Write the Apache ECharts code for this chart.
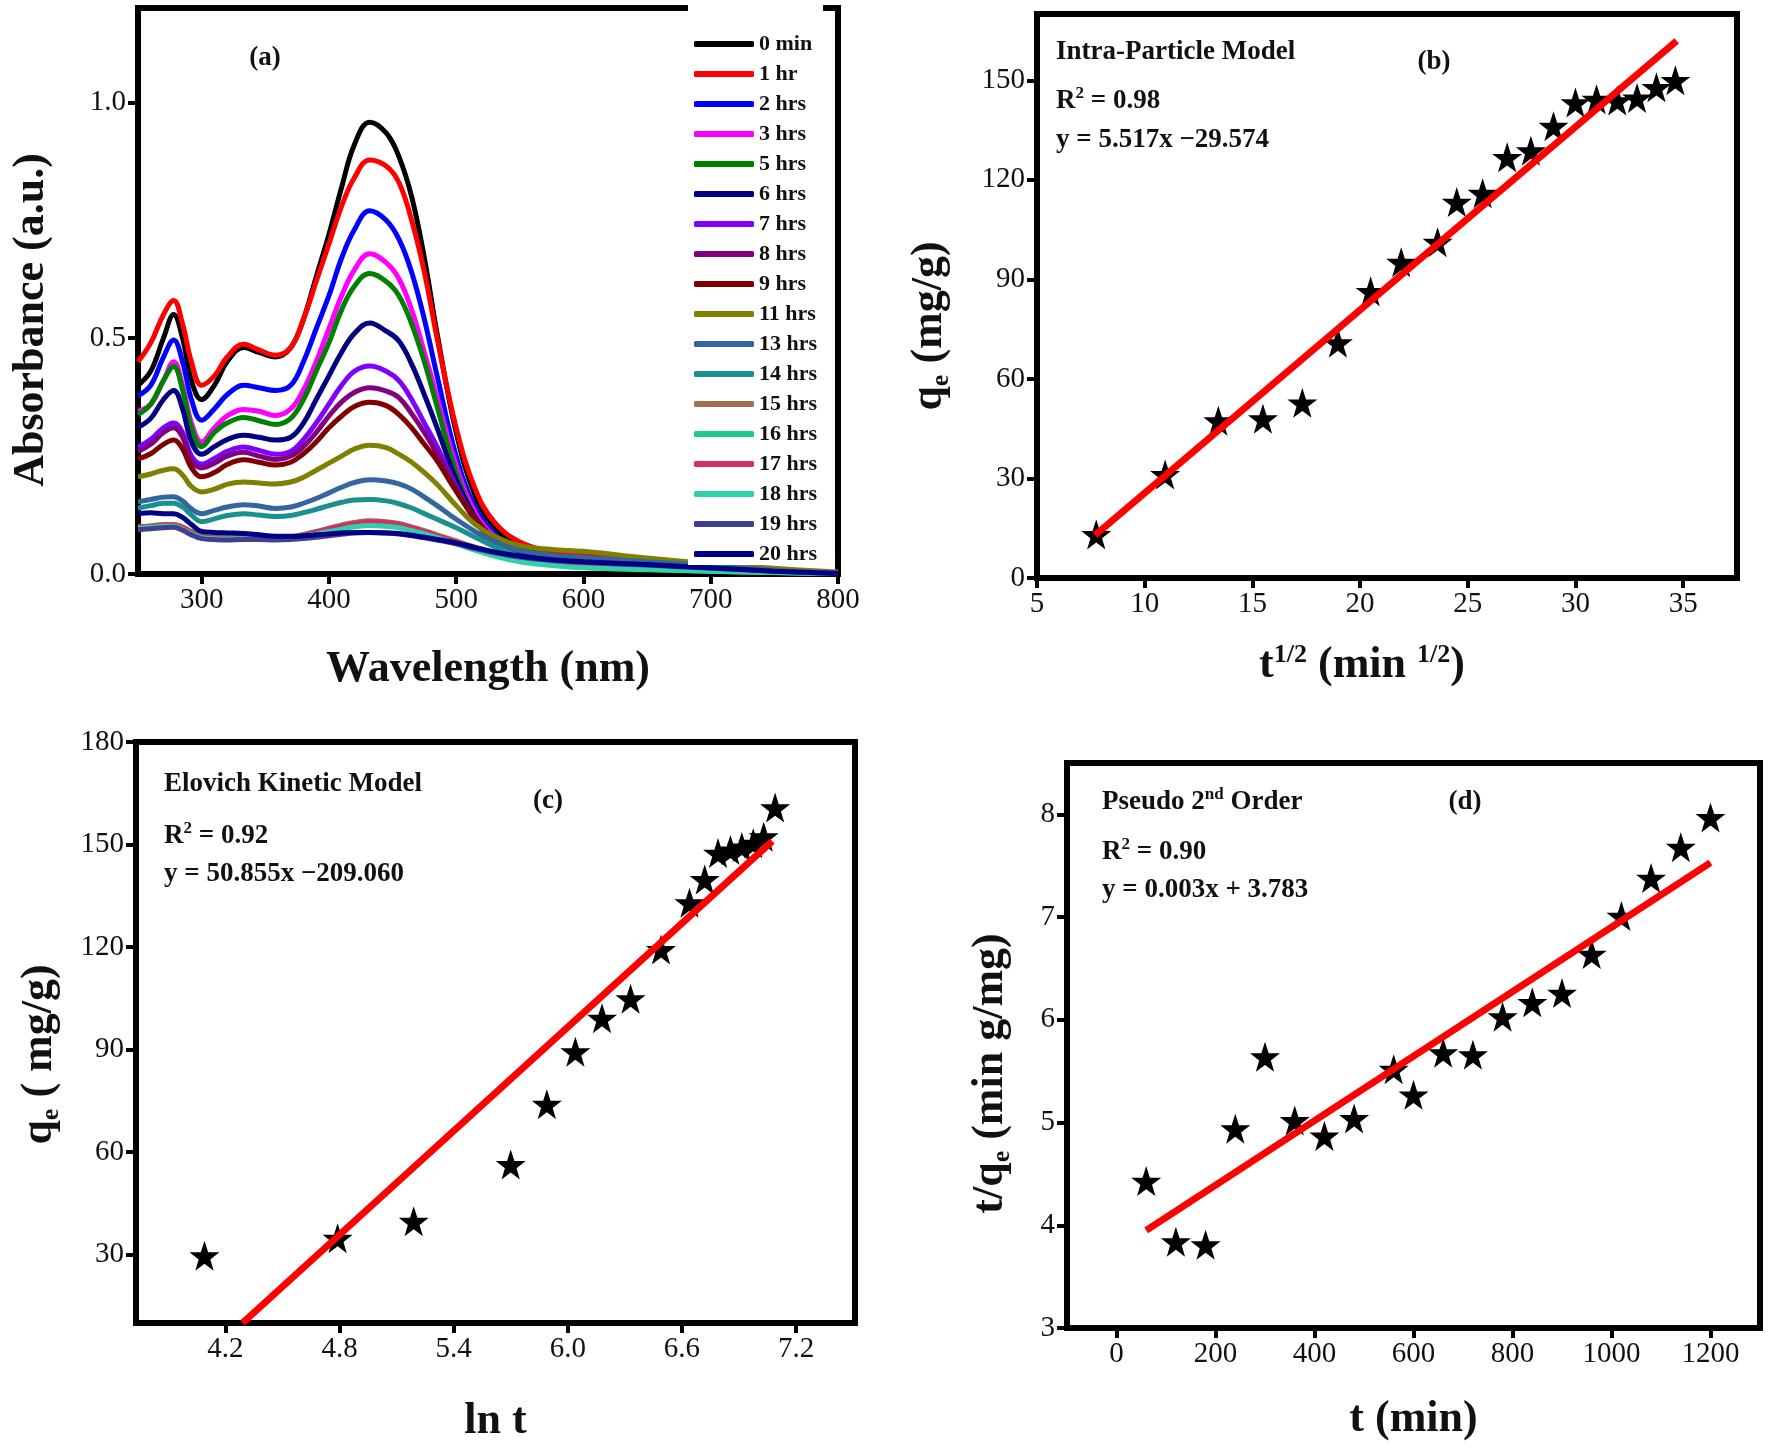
<!DOCTYPE html>
<html><head><meta charset="utf-8">
<script src="https://cdn.jsdelivr.net/npm/echarts@6/dist/echarts.min.js"></script>
<style>html,body{margin:0;padding:0;background:#fff}#c{width:1769px;height:1449px}</style>
</head><body><div id="c"></div>
<script>
// ---------- Panel (a): UV-Vis spectra ----------
const wavelengths = [250,260,270,278,285,292,300,310,320,333,345,358,370,380,390,400,410,420,432,445,455,465,475,485,500,515,530,550,575,600,650,700,750,800];
const spectraLabels = ['0 min','1 hr','2 hrs','3 hrs','5 hrs','6 hrs','7 hrs','8 hrs','9 hrs','11 hrs','13 hrs','14 hrs','15 hrs','16 hrs','17 hrs','18 hrs','19 hrs','20 hrs'];
const spectraColors = ['#000000','#ff0000','#0000ff','#ff00ff','#008000','#000080','#8000ff','#800080','#800000','#808000','#3366a0','#1a9090','#a07050','#20c890','#d0306a','#30d0a8','#404090','#000088'];
const abs_0min = [.40,.43,.50,.55,.50,.41,.37,.40,.45,.48,.47,.46,.48,.54,.63,.72,.82,.91,.958,.935,.885,.80,.67,.51,.30,.165,.10,.06,.045,.038,.028,.018,.008,.002];
const abs_1hr  = [.45,.49,.55,.58,.53,.45,.40,.42,.46,.487,.475,.464,.48,.54,.62,.70,.78,.84,.878,.865,.83,.75,.64,.50,.31,.18,.11,.068,.047,.038,.028,.018,.008,.002];
const abs_2hrs = [.378,.40,.46,.496,.45,.37,.326,.35,.38,.40,.395,.389,.40,.45,.52,.59,.67,.73,.77,.75,.71,.64,.54,.42,.25,.14,.085,.05,.038,.033,.024,.015,.007,.002];
const abs_3hrs = [.345,.36,.41,.45,.40,.32,.28,.31,.335,.349,.345,.336,.35,.39,.45,.52,.59,.645,.679,.66,.626,.56,.47,.375,.23,.13,.08,.048,.036,.03,.021,.013,.006,.001];
const abs_5hrs = [.338,.36,.41,.44,.39,.31,.27,.30,.32,.332,.325,.317,.33,.37,.43,.49,.56,.61,.637,.62,.59,.53,.45,.355,.215,.12,.072,.042,.028,.02,.012,.008,.004,.001];
const abs_6hrs = [.311,.33,.37,.389,.35,.28,.254,.27,.285,.294,.29,.284,.29,.32,.37,.42,.47,.51,.532,.515,.494,.445,.38,.31,.20,.12,.075,.047,.035,.03,.022,.014,.006,.001];
const abs_7hrs = [.269,.285,.31,.32,.30,.25,.233,.245,.26,.269,.262,.254,.26,.285,.32,.36,.40,.43,.441,.43,.41,.37,.32,.27,.185,.115,.072,.045,.033,.028,.02,.013,.006,.001];
const abs_8hrs = [.26,.275,.30,.31,.29,.24,.225,.235,.25,.258,.25,.243,.25,.27,.30,.335,.365,.385,.395,.388,.374,.34,.30,.255,.18,.113,.07,.044,.033,.028,.02,.013,.006,.001];
const abs_9hrs = [.244,.255,.275,.284,.265,.225,.206,.215,.232,.242,.237,.231,.237,.255,.28,.31,.335,.355,.364,.357,.338,.31,.275,.24,.175,.118,.074,.046,.035,.03,.022,.014,.006,.001];
const abs_11hrs = [.206,.212,.22,.223,.21,.185,.174,.18,.19,.195,.193,.191,.195,.205,.22,.235,.25,.265,.273,.268,.254,.237,.215,.19,.145,.105,.08,.06,.052,.048,.034,.022,.012,.004];
const abs_13hrs = [.153,.158,.163,.164,.155,.138,.128,.135,.142,.147,.144,.139,.142,.15,.16,.172,.184,.194,.20,.197,.191,.18,.163,.145,.116,.09,.068,.05,.04,.035,.026,.017,.008,.002];
const abs_14hrs = [.14,.145,.15,.15,.142,.125,.111,.117,.124,.128,.125,.122,.124,.13,.137,.145,.152,.157,.158,.155,.149,.14,.128,.116,.098,.078,.058,.038,.024,.017,.011,.007,.004,.001];
const abs_15hrs = [.10,.102,.105,.105,.10,.09,.08,.078,.077,.078,.078,.077,.079,.084,.09,.097,.104,.109,.113,.111,.107,.10,.092,.083,.07,.057,.045,.035,.028,.024,.017,.011,.005,.001];
const abs_16hrs = [.098,.10,.103,.103,.097,.087,.078,.076,.075,.076,.076,.075,.077,.082,.088,.094,.10,.105,.108,.106,.102,.096,.088,.08,.066,.052,.04,.028,.02,.015,.01,.006,.003,.001];
const abs_17hrs = [.10,.101,.104,.104,.098,.088,.079,.077,.076,.077,.077,.076,.078,.083,.089,.096,.102,.107,.111,.109,.105,.098,.09,.081,.068,.055,.043,.033,.026,.022,.016,.01,.005,.001];
const abs_18hrs = [.097,.099,.101,.101,.095,.085,.077,.075,.074,.075,.075,.074,.076,.08,.085,.09,.095,.10,.103,.101,.098,.092,.085,.077,.064,.05,.038,.026,.018,.013,.009,.006,.003,.001];
const abs_19hrs = [.094,.096,.098,.099,.093,.083,.075,.073,.072,.073,.073,.072,.073,.075,.078,.081,.084,.087,.088,.087,.085,.081,.077,.072,.064,.054,.045,.036,.029,.025,.019,.012,.006,.001];
const abs_20hrs = [.128,.13,.128,.128,.12,.105,.09,.088,.087,.086,.083,.08,.08,.081,.083,.085,.087,.088,.088,.087,.086,.082,.078,.073,.066,.056,.047,.038,.03,.026,.02,.013,.006,.001];
const spectra = [abs_0min,abs_1hr,abs_2hrs,abs_3hrs,abs_5hrs,abs_6hrs,abs_7hrs,abs_8hrs,abs_9hrs,abs_11hrs,abs_13hrs,abs_14hrs,abs_15hrs,abs_16hrs,abs_17hrs,abs_18hrs,abs_19hrs,abs_20hrs];
const ticksA_x = [300,400,500,600,700,800];
const ticksA_y = [0,0.5,1.0];

// ---------- Panel (b): intra-particle ----------
const intraX = [7.75,10.95,13.42,15.49,17.32,18.97,20.49,21.91,23.6,24.49,25.69,26.83,27.93,28.98,30.0,30.98,31.94,32.86,33.76,34.64];
const intraY = [13.1,31.2,47.4,48.0,52.8,70.9,86.4,95.2,101.2,113.3,116.0,126.8,128.8,136.2,143.3,144.3,143.9,144.7,147.9,150.0];
const intraFit = [[7.7,12.9],[34.7,161.9]];
const ticksB_x = [5,10,15,20,25,30,35];
const ticksB_y = [0,30,60,90,120,150];

// ---------- Panel (c): Elovich ----------
const elovichX = [4.09,4.79,5.19,5.70,5.89,6.04,6.18,6.33,6.49,6.64,6.72,6.79,6.855,6.915,6.975,7.03,7.09];
const elovichY = [29.7,34.8,39.8,56.4,74.0,89.4,99.2,104.9,119.3,133.0,139.8,147.5,148.4,149.3,150.4,152.3,160.8];
const elovichFit = [[4.29,10],[7.075,151]];
const ticksC_x = [4.2,4.8,5.4,6.0,6.6,7.2];
const ticksC_y = [30,60,90,120,150,180];

// ---------- Panel (d): pseudo 2nd order ----------
const pso_t = [60,120,180,240,300,360,420,480,560,600,660,720,780,840,900,960,1020,1080,1140,1200];
const pso_tq = [4.43,3.84,3.81,4.94,5.64,5.02,4.87,5.04,5.52,5.27,5.68,5.66,6.03,6.17,6.26,6.64,7.01,7.38,7.68,7.97];
const psoFit = [[60,3.95],[1200,7.53]];
const ticksD_x = [0,200,400,600,800,1000,1200];
const ticksD_y = [3,4,5,6,7,8];

// ---------- styling ----------
const FONT = 'Liberation Serif';
const STAR = 'path://M50,0 L61.8,35.1 L98.1,35.1 L68.7,56.9 L79.4,91.0 L50,70 L20.6,91.0 L31.3,56.9 L1.9,35.1 L38.2,35.1 Z';
const titleRich = {
  T: {fontFamily: FONT, fontWeight: 'bold', fontSize: 44, lineHeight: 46, verticalAlign: 'top', color: '#111'},
  B: {fontFamily: FONT, fontWeight: 'bold', fontSize: 44, lineHeight: 46, verticalAlign: 'bottom', color: '#111'},
  S: {fontFamily: FONT, fontWeight: 'bold', fontSize: 26, lineHeight: 26, verticalAlign: 'bottom', padding: [26,0,0,0], color: '#111'},
  P: {fontFamily: FONT, fontWeight: 'bold', fontSize: 26, lineHeight: 26, verticalAlign: 'top', padding: [0,0,30,0], color: '#111'}
};
const annRich = {
  m: {fontFamily: FONT, fontWeight: 'bold', fontSize: 27, lineHeight: 30, verticalAlign: 'bottom', color: '#111'},
  p: {fontFamily: FONT, fontWeight: 'bold', fontSize: 17, lineHeight: 17, verticalAlign: 'top', padding: [0,0,18,0], color: '#111'}
};

function grid(l, t, w, h) {
  return {left: l, top: t, width: w, height: h, show: true, borderColor: '#000', borderWidth: 6, containLabel: false};
}
function axis(gi, min, max, ticks, name, gap, fmt, pad) {
  return {
    type: 'value', gridIndex: gi, min: min, max: max,
    axisLine: {show: true, onZero: false, lineStyle: {color: '#000', width: 6}},
    axisTick: {show: true, customValues: ticks, length: 10, lineStyle: {color: '#000', width: 4}},
    axisLabel: {customValues: ticks, fontFamily: FONT, fontSize: 29, color: '#111', margin: 12, formatter: fmt || (v => String(v))},
    splitLine: {show: false},
    name: name, nameLocation: 'middle', nameGap: gap,
    nameTextStyle: {fontFamily: FONT, fontWeight: 'bold', fontSize: 44, color: '#111', rich: titleRich, padding: pad || 0}
  };
}
function ann(x, y, text, align) {
  return {type: 'text', x: x, y: y, z: 100,
    style: {text: text, rich: annRich, fontFamily: FONT, fontWeight: 'bold', fontSize: 27, fill: '#111',
      align: align || 'left', verticalAlign: 'middle'}};
}

const series = spectra.map((vals, i) => ({
  name: spectraLabels[i], type: 'line', xAxisIndex: 0, yAxisIndex: 0,
  data: wavelengths.map((w, k) => [w, vals[k]]),
  smooth: 0.4, showSymbol: false, symbol: 'none',
  lineStyle: {width: 5, color: spectraColors[i]}, itemStyle: {color: spectraColors[i]}, z: 2
}));
function scatter(idx, xs, ys) {
  return {type: 'scatter', xAxisIndex: idx, yAxisIndex: idx, data: xs.map((x, k) => [x, ys[k]]),
    symbol: STAR, symbolSize: 30, itemStyle: {color: '#000', opacity: 1}, z: 3};
}
function fit(idx, pts) {
  return {type: 'line', xAxisIndex: idx, yAxisIndex: idx, data: pts, symbol: 'none', showSymbol: false,
    lineStyle: {color: '#ff0000', width: 7}, z: 4};
}
series.push(scatter(1, intraX, intraY), fit(1, intraFit));
series.push(scatter(2, elovichX, elovichY), fit(2, elovichFit));
series.push(scatter(3, pso_t, pso_tq), fit(3, psoFit));

const option = {
  backgroundColor: '#fff',
  animation: false,
  grid: [grid(138, 8, 700, 566), grid(1037, 14, 700, 564), grid(136, 742, 719, 581), grid(1067, 763, 693, 565)],
  xAxis: [
    axis(0, 250, 800, ticksA_x, '{T|Wavelength (nm)}', 74),
    axis(1, 5, 37.5, ticksB_x, '{B|t}{P|1/2}{B| (min }{P|1/2}{B|)}', 64, null, [0, 50, 0, 0]),
    axis(2, 3.73, 7.51, ticksC_x, '{T|ln t}', 77, v => v.toFixed(1)),
    axis(3, -100, 1300, ticksD_x, '{T|t (min)}', 70)
  ],
  yAxis: [
    axis(0, 0, 1.2, ticksA_y, '{T|Absorbance (a.u.)}', 82, v => v.toFixed(1), [0, 58, 0, 0]),
    axis(1, 0, 170, ticksB_y, '{T|q}{S|e}{T| (mg/g)}', 83, null, [0, 60, 0, 0]),
    axis(2, 10, 180, ticksC_y, '{T|q}{S|e}{T| ( mg/g)}', 72, null, [0, 44, 0, 0]),
    axis(3, 3, 8.5, ticksD_y, '{T|t/q}{S|e}{T| (min g/mg)}', 52, null, [0, 56, 0, 0])
  ],
  legend: {
    orient: 'vertical', left: 688, top: 0, padding: [33, 6, 0, 6], itemGap: 8,
    itemWidth: 60, itemHeight: 6, icon: 'roundRect', backgroundColor: '#fff',
    textStyle: {fontFamily: FONT, fontWeight: 'bold', fontSize: 22, lineHeight: 22, color: '#111'},
    data: spectraLabels, selectedMode: false, z: 10
  },
  graphic: [
    ann(265, 57, '{m|(a)}', 'center'),
    ann(1056, 51, '{m|Intra-Particle Model}'),
    ann(1434, 61, '{m|(b)}', 'center'),
    ann(1056, 100, '{m|R}{p|2}{m| = 0.98}'),
    ann(1056, 139, '{m|y = 5.517x \u221229.574}'),
    ann(164, 783, '{m|Elovich Kinetic Model}'),
    ann(548, 800, '{m|(c)}', 'center'),
    ann(164, 835, '{m|R}{p|2}{m| = 0.92}'),
    ann(164, 873, '{m|y = 50.855x \u2212209.060}'),
    ann(1102, 801, '{m|Pseudo 2}{p|nd}{m| Order}'),
    ann(1465, 801, '{m|(d)}', 'center'),
    ann(1102, 851, '{m|R}{p|2}{m| = 0.90}'),
    ann(1102, 889, '{m|y = 0.003x + 3.783}')
  ],
  series: series
};
const chart = echarts.init(document.getElementById('c'), null, {renderer: 'canvas'});
chart.setOption(option);
</script></body></html>
